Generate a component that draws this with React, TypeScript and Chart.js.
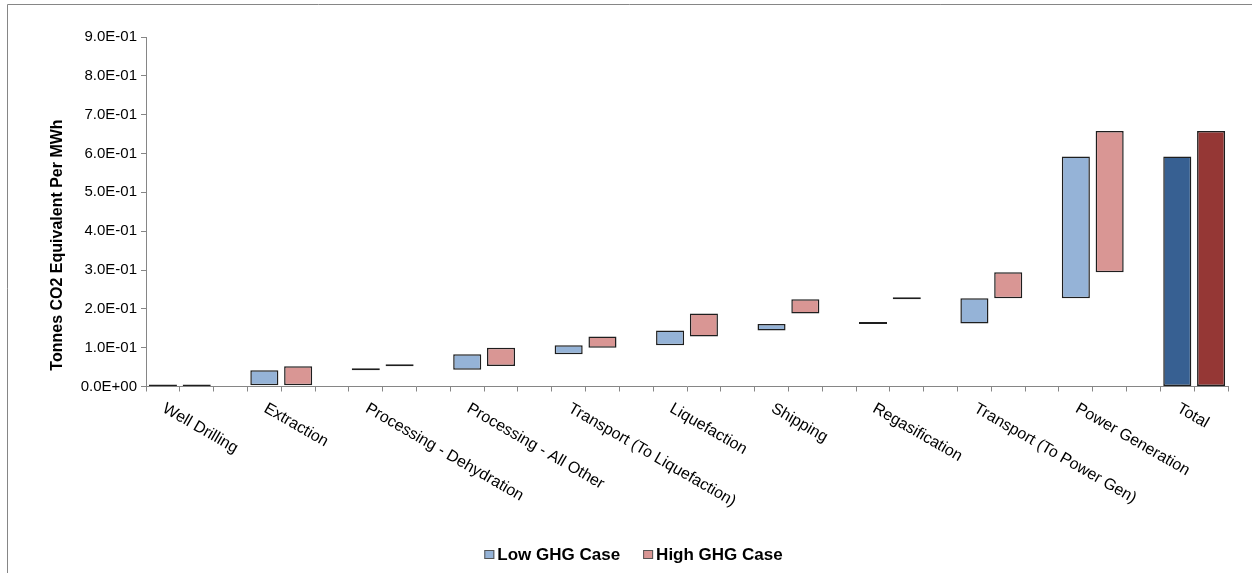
import React, { useEffect, useRef } from 'react';
import { Chart, registerables } from 'chart.js';

Chart.register(...registerables);

const FONT = '"Liberation Sans", Arial, Helvetica, sans-serif';

const stages = [
  'Well Drilling',
  'Extraction',
  'Processing - Dehydration',
  'Processing - All Other',
  'Transport (To Liquefaction)',
  'Liquefaction',
  'Shipping',
  'Regasification',
  'Transport (To Power Gen)',
  'Power Generation',
  'Total',
];

// Floating (waterfall) bar ranges, tonnes CO2e per MWh
const lowStart = [0, 0.003, 0.042, 0.043, 0.083, 0.106, 0.144, 0.161, 0.162, 0.227, 0];
const lowEnd = [0.003, 0.042, 0.043, 0.083, 0.106, 0.144, 0.161, 0.162, 0.227, 0.592, 0.592];
const highStart = [0, 0.003, 0.052, 0.053, 0.1, 0.129, 0.188, 0.225, 0.227, 0.294, 0];
const highEnd = [0.003, 0.052, 0.053, 0.1, 0.129, 0.188, 0.225, 0.227, 0.294, 0.658, 0.658];

const seriesNames = ['Low GHG Case', 'High GHG Case'];
const seriesColors = ['#95B3D7', '#D99694'];
const totalColors = ['#376092', '#953735'];

const yMin = 0;
const yMax = 0.9;
const yStep = 0.1;
const yTitle = 'Tonnes CO2 Equivalent Per MWh';

function fmtExp(v: number): string {
  if (Math.abs(v) < 1e-12) return '0.0E+00';
  const [m, e] = v.toExponential(1).split('e');
  const sign = e[0] === '-' ? '-' : '+';
  const digits = e.replace(/[+-]/, '').padStart(2, '0');
  return `${m}E${sign}${digits}`;
}

// 3 slots per stage (low, high, gap), no gap after the last stage
const slotLabels: string[] = [];
const lowData: ([number, number] | null)[] = [];
const highData: ([number, number] | null)[] = [];
stages.forEach((s, i) => {
  slotLabels.push(s, s);
  lowData.push([lowStart[i], lowEnd[i]], null);
  highData.push(null, [highStart[i], highEnd[i]]);
  if (i < stages.length - 1) {
    slotLabels.push('');
    lowData.push(null);
    highData.push(null);
  }
});
const lastIndex = stages.length - 1;

export default function App() {
  const canvasRef = useRef<HTMLCanvasElement | null>(null);

  useEffect(() => {
    document.body.style.margin = '0';
    const canvas = canvasRef.current;
    if (!canvas) return;

    const overlay = {
      id: 'overlay',
      afterDraw(chart: any) {
        const ctx = chart.ctx as CanvasRenderingContext2D;
        const xs = chart.scales.x;
        const ys = chart.scales.y;
        ctx.save();

        // frame
        ctx.strokeStyle = '#868686';
        ctx.lineWidth = 1;
        ctx.beginPath();
        ctx.moveTo(7.5, 573);
        ctx.lineTo(7.5, 4.5);
        ctx.lineTo(1252, 4.5);
        ctx.stroke();

        // category labels (rotated downward)
        ctx.fillStyle = '#000';
        ctx.font = `16px ${FONT}`;
        ctx.textAlign = 'left';
        ctx.textBaseline = 'top';
        const ang = (30 * Math.PI) / 180;
        stages.forEach((s, i) => {
          const cx = (xs.getPixelForValue(3 * i) + xs.getPixelForValue(3 * i + 1)) / 2;
          ctx.save();
          ctx.translate(cx - 12, ys.bottom + 14);
          ctx.rotate(ang);
          ctx.fillText(s, 0, 0);
          ctx.restore();
        });

        // y title
        ctx.font = `bold 16px ${FONT}`;
        ctx.textAlign = 'center';
        ctx.textBaseline = 'alphabetic';
        ctx.save();
        ctx.translate(62, 245);
        ctx.rotate(-Math.PI / 2);
        ctx.fillText(yTitle, 0, 0);
        ctx.restore();

        // legend
        ctx.font = `bold 17px ${FONT}`;
        ctx.textAlign = 'left';
        const box = 10;
        const boxGap = 3;
        const itemGap = 23;
        const widths = seriesNames.map((n) => ctx.measureText(n).width);
        const total = widths.reduce((a, w) => a + box + boxGap + w, 0) + itemGap;
        let lx = 633.5 - total / 2;
        const ly = 560;
        seriesNames.forEach((n, i) => {
          ctx.fillStyle = seriesColors[i];
          ctx.fillRect(lx, ly - 10, box, box - 1);
          ctx.strokeStyle = '#555';
          ctx.lineWidth = 1;
          ctx.strokeRect(lx + 0.5, ly - 9.5, box - 1, box - 2);
          ctx.fillStyle = '#000';
          ctx.fillText(n, lx + box + boxGap, ly);
          lx += box + boxGap + widths[i] + itemGap;
        });

        ctx.restore();
      },
    };

    const chart = new Chart(canvas, {
      type: 'bar',
      data: {
        labels: slotLabels,
        datasets: [
          {
            label: seriesNames[0],
            data: lowData as any,
            backgroundColor: (c: any) => (c.dataIndex === 3 * lastIndex ? totalColors[0] : seriesColors[0]),
            borderColor: '#1e1e1e',
            borderWidth: 1.5,
            borderSkipped: false,
            grouped: false,
            categoryPercentage: 1,
            barPercentage: 0.83,
            minBarLength: 2,
          },
          {
            label: seriesNames[1],
            data: highData as any,
            backgroundColor: (c: any) => (c.dataIndex === 3 * lastIndex + 1 ? totalColors[1] : seriesColors[1]),
            borderColor: '#1e1e1e',
            borderWidth: 1.5,
            borderSkipped: false,
            grouped: false,
            categoryPercentage: 1,
            barPercentage: 0.83,
            minBarLength: 2,
          },
        ],
      },
      options: {
        animation: false,
        responsive: true,
        maintainAspectRatio: false,
        layout: { padding: { left: 0, top: 37, right: 24, bottom: 0 } },
        plugins: {
          legend: { display: false },
          tooltip: { enabled: false },
        },
        scales: {
          x: {
            ticks: { display: false },
            grid: { drawOnChartArea: false, drawTicks: true, tickLength: 5, color: '#868686', offset: true },
            border: { color: '#868686', width: 1 },
            afterFit: (s: any) => {
              s.height = 186.5;
            },
          },
          y: {
            min: yMin,
            max: yMax,
            ticks: {
              stepSize: yStep,
              callback: (v: any) => fmtExp(Number(v)),
              color: '#000',
              font: { family: FONT, size: 15 },
              padding: 4,
            },
            grid: { drawOnChartArea: false, drawTicks: true, tickLength: 5, color: '#868686' },
            border: { color: '#868686', width: 1 },
            afterFit: (s: any) => {
              s.width = 146;
            },
          },
        },
      },
      plugins: [overlay],
    });

    return () => chart.destroy();
  }, []);

  return (
    <div style={{ position: 'fixed', left: 0, top: 0, width: 1252, height: 573, background: '#fff' }}>
      <canvas ref={canvasRef} />
    </div>
  );
}
